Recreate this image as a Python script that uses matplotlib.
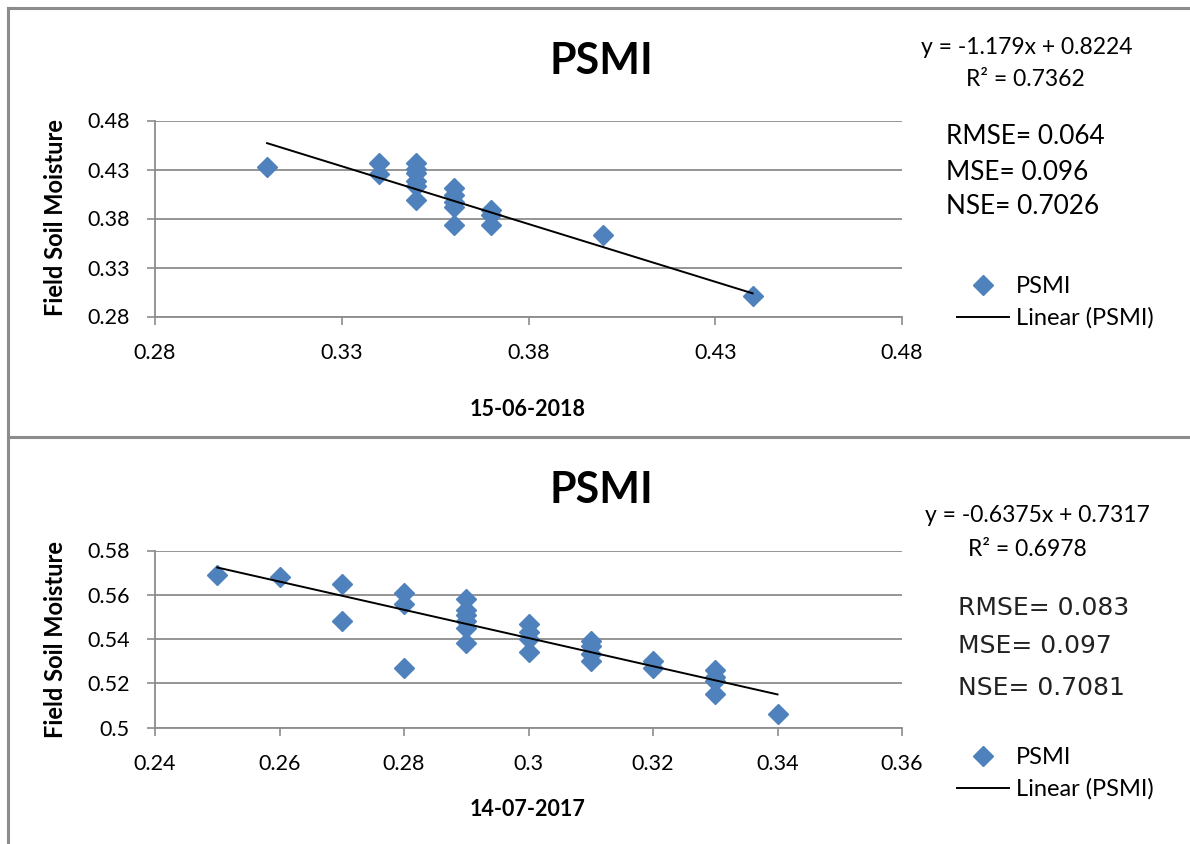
import matplotlib.pyplot as plt
import numpy as np
from matplotlib.lines import Line2D

plt.rcParams["font.family"] = ["Lato", "DejaVu Sans"]

# 15-06-2018 panel
x_2018 = [0.31, 0.34, 0.34, 0.35, 0.35, 0.35, 0.35, 0.35, 0.35,
          0.36, 0.36, 0.36, 0.36, 0.36, 0.37, 0.37, 0.37, 0.40, 0.44]
y_2018 = [0.433, 0.437, 0.425, 0.437, 0.431, 0.426, 0.418, 0.413, 0.399,
          0.411, 0.404, 0.397, 0.392, 0.373, 0.389, 0.384, 0.373, 0.363, 0.301]
fit_2018 = (-1.179, 0.8224)
stats_2018 = ["RMSE= 0.064", "MSE= 0.096", "NSE= 0.7026"]
eq_2018 = ["y = -1.179x + 0.8224", "R² = 0.7362"]
xticks_2018 = [0.28, 0.33, 0.38, 0.43, 0.48]
yticks_2018 = [0.28, 0.33, 0.38, 0.43, 0.48]

# 14-07-2017 panel
x_2017 = [0.25, 0.26, 0.27, 0.27, 0.28, 0.28, 0.28,
          0.29, 0.29, 0.29, 0.29, 0.29, 0.29,
          0.30, 0.30, 0.30, 0.30, 0.31, 0.31, 0.31, 0.31,
          0.32, 0.32, 0.33, 0.33, 0.33, 0.33, 0.34]
y_2017 = [0.569, 0.568, 0.565, 0.548, 0.561, 0.556, 0.527,
          0.558, 0.553, 0.551, 0.548, 0.545, 0.538,
          0.547, 0.543, 0.540, 0.534, 0.539, 0.537, 0.533, 0.530,
          0.530, 0.527, 0.526, 0.523, 0.521, 0.515, 0.506]
fit_2017 = (-0.6375, 0.7317)
stats_2017 = ["RMSE= 0.083", "MSE= 0.097", "NSE= 0.7081"]
eq_2017 = ["y = -0.6375x + 0.7317", "R² = 0.6978"]
xticks_2017 = [0.24, 0.26, 0.28, 0.30, 0.32, 0.34, 0.36]
xticklabels_2017 = ["0.24", "0.26", "0.28", "0.3", "0.32", "0.34", "0.36"]
yticks_2017 = [0.50, 0.52, 0.54, 0.56, 0.58]
yticklabels_2017 = ["0.5", "0.52", "0.54", "0.56", "0.58"]

BLUE = "#4F81BD"
GREY = "#8C8C8C"
W, H = 1190, 844

fig = plt.figure(figsize=(W / 100, H / 100), dpi=100)


def fx(px):
    return px / W


def fy(py):
    return 1 - py / H


def panel(rect, x, y, fit, xticks, xlabels, yticks, ylabels):
    ax = fig.add_axes(rect)
    ax.plot(x, y, linestyle="none", marker="D", markersize=10.5,
            color=BLUE, label="PSMI", zorder=3)
    xs = np.array([min(x), max(x)])
    ax.plot(xs, fit[0] * xs + fit[1], color="black", lw=1.4,
            label="Linear (PSMI)", zorder=4)

    ax.set_xlim(xticks[0], xticks[-1])
    ax.set_ylim(yticks[0], yticks[-1])
    ax.set_xticks(xticks)
    ax.set_xticklabels(xlabels)
    ax.set_yticks(yticks)
    ax.set_yticklabels(ylabels)
    ax.tick_params(axis="x", length=6, width=1.2, color=GREY, pad=13,
                   labelsize=15.5)
    ax.tick_params(axis="y", length=6, width=1.2, color=GREY, pad=12,
                   labelsize=15.5)
    ax.grid(axis="y", color=GREY, lw=1.3)
    ax.set_axisbelow(True)
    for side in ["top", "right"]:
        ax.spines[side].set_visible(False)
    for side in ["left", "bottom"]:
        ax.spines[side].set_color(GREY)
        ax.spines[side].set_linewidth(1.3)
    return ax


ax1 = panel([fx(155), fy(316.5), fx(902) - fx(155), fy(120.5) - fy(316.5)],
            x_2018, y_2018, fit_2018, xticks_2018,
            [f"{v:g}" for v in xticks_2018], yticks_2018,
            [f"{v:g}" for v in yticks_2018])
ax2 = panel([fx(155), fy(727.5), fx(902) - fx(155), fy(550.5) - fy(727.5)],
            x_2017, y_2017, fit_2017, xticks_2017, xticklabels_2017,
            yticks_2017, yticklabels_2017)

# titles, axis labels
for ty, lab, ly, my in [(61, "15-06-2018", 410, 218), (490, "14-07-2017", 810, 640)]:
    fig.text(fx(601), fy(ty), "PSMI", fontsize=31, fontweight="bold",
             ha="center", va="center")
    fig.text(fx(528), fy(ly), lab, fontsize=15.5, fontweight="bold",
             ha="center", va="center")
    fig.text(fx(56), fy(my), "Field Soil Moisture", fontsize=17,
             fontweight="bold", rotation=90, ha="center", va="center")

# trendline equations
fig.text(fx(1027), fy(48), eq_2018[0], fontsize=16.5, ha="center", va="center")
fig.text(fx(1025), fy(80), eq_2018[1], fontsize=16.5, ha="center", va="center")
fig.text(fx(1037), fy(516), eq_2017[0], fontsize=16.5, ha="center", va="center")
fig.text(fx(1027), fy(549), eq_2017[1], fontsize=16.5, ha="center", va="center")

# error stats
for s, py in zip(stats_2018, [137, 172, 207]):
    fig.text(fx(946), fy(py), s, fontsize=18.8, ha="left", va="center")
for s, py in zip(stats_2017, [608, 646, 688]):
    fig.text(fx(958), fy(py), s, fontsize=18, ha="left", va="center",
             family="DejaVu Sans", color="#222222")

# legends
for ax, cy in [(ax1, 302.5), (ax2, 773.5)]:
    ax.legend(loc="center left", bbox_to_anchor=(fx(957), fy(cy)),
              bbox_transform=fig.transFigure, frameon=False, fontsize=17,
              handlelength=2.2, handletextpad=0.3, labelspacing=0.45,
              borderpad=0, borderaxespad=0)

# chart area borders
border = dict(color=GREY, lw=2.2, transform=fig.transFigure)
fig.add_artist(Line2D([fx(8), 1], [fy(8), fy(8)], **border))
fig.add_artist(Line2D([fx(8), fx(8)], [fy(8), 0], **border))
fig.add_artist(Line2D([fx(8), 1], [fy(437.5), fy(437.5)], **border))

plt.savefig("out.png", dpi=100)
